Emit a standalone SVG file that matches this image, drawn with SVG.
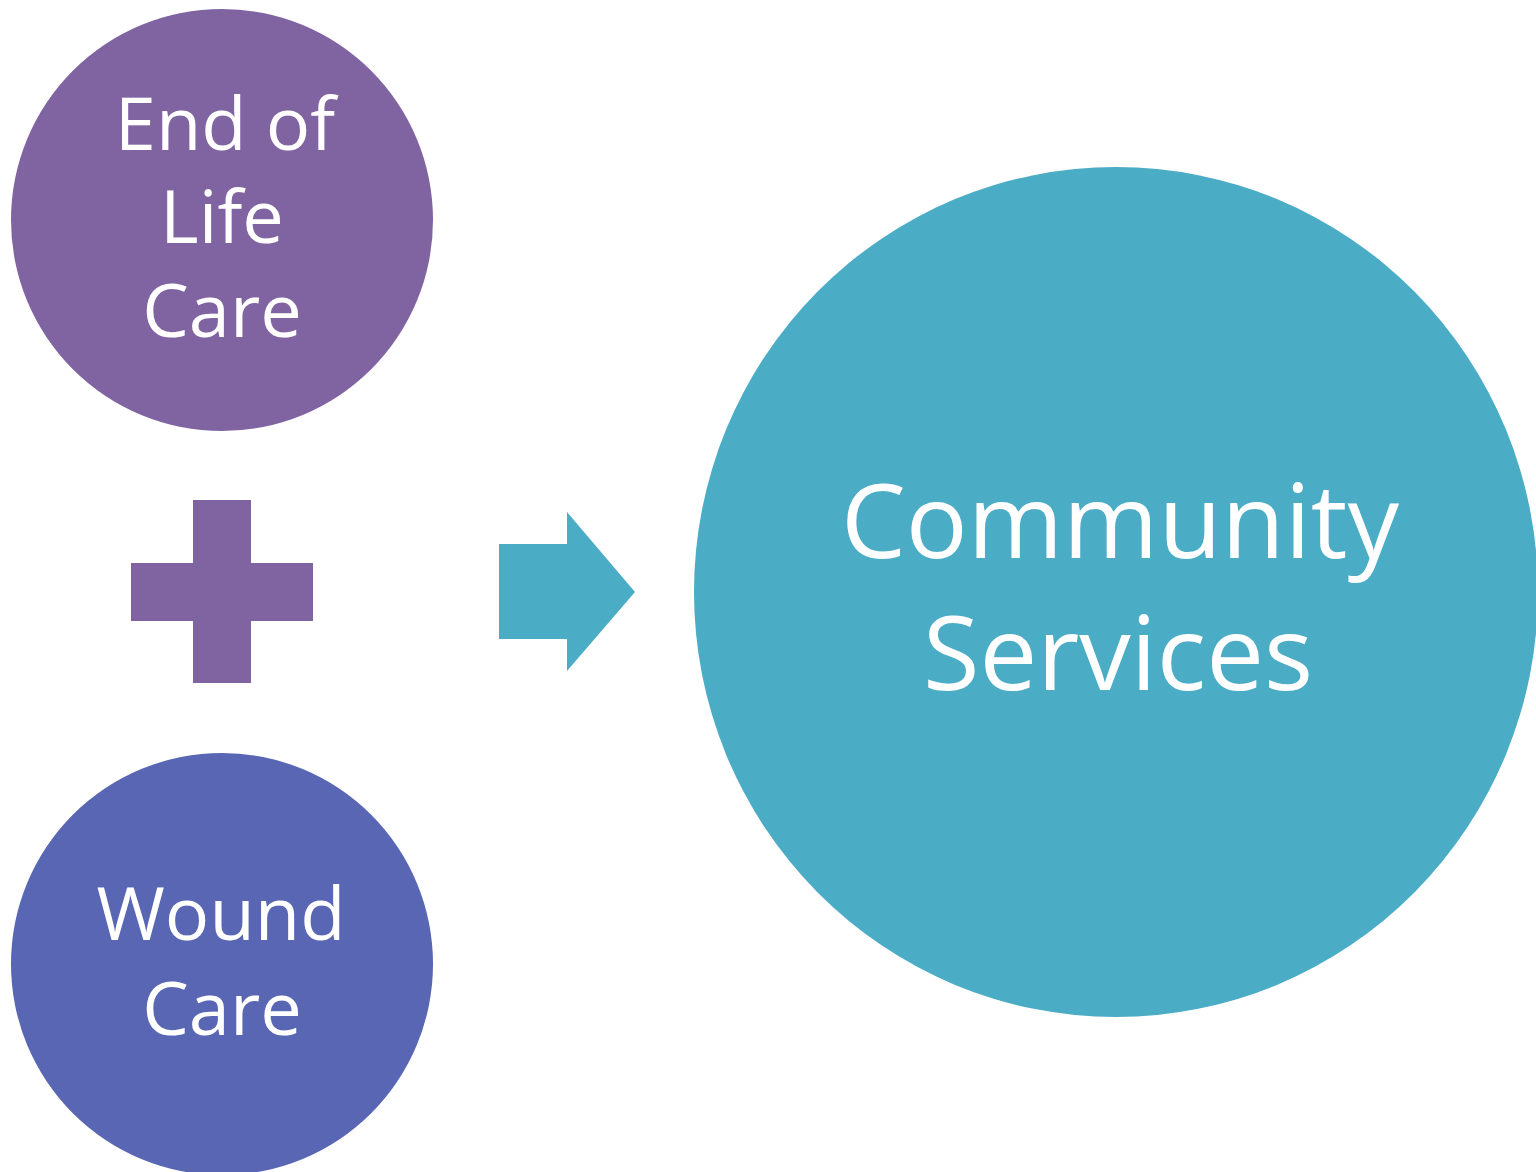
<svg xmlns="http://www.w3.org/2000/svg" width="1536" height="1172" viewBox="0 0 1536 1172">
<style>
.lbl{font-family:"Open Sans","Liberation Sans",sans-serif;fill:#ffffff;text-anchor:middle}
.sm{font-size:74px}
.lg{font-size:103px}
</style>
<rect width="1536" height="1172" fill="#ffffff"/>
<g id="end-of-life-care">
<circle cx="222" cy="220" r="211" fill="#8064A2"/>
<text class="lbl sm" x="225" y="150">End of</text>
<text class="lbl sm" x="222" y="243">Life</text>
<text class="lbl sm" x="222" y="337">Care</text>
</g>
<g id="plus">
<path d="M193 500H251V563H313V621H251V683H193V621H131V563H193Z" fill="#8064A2"/>
</g>
<g id="wound-care">
<circle cx="222" cy="964" r="211" fill="#5866B3"/>
<text class="lbl sm" x="221" y="940">Wound</text>
<text class="lbl sm" x="222" y="1035">Care</text>
</g>
<g id="connectors">
<path d="M499 544H567V512L635 592L567 671V639H499Z" fill="#4BACC6"/>
</g>
<g id="community-services">
<ellipse cx="1116" cy="592" rx="422" ry="425" fill="#4BACC6"/>
<text class="lbl lg" x="1120" y="558">Community</text>
<text class="lbl lg" x="1118" y="690">Services</text>
</g>
</svg>
